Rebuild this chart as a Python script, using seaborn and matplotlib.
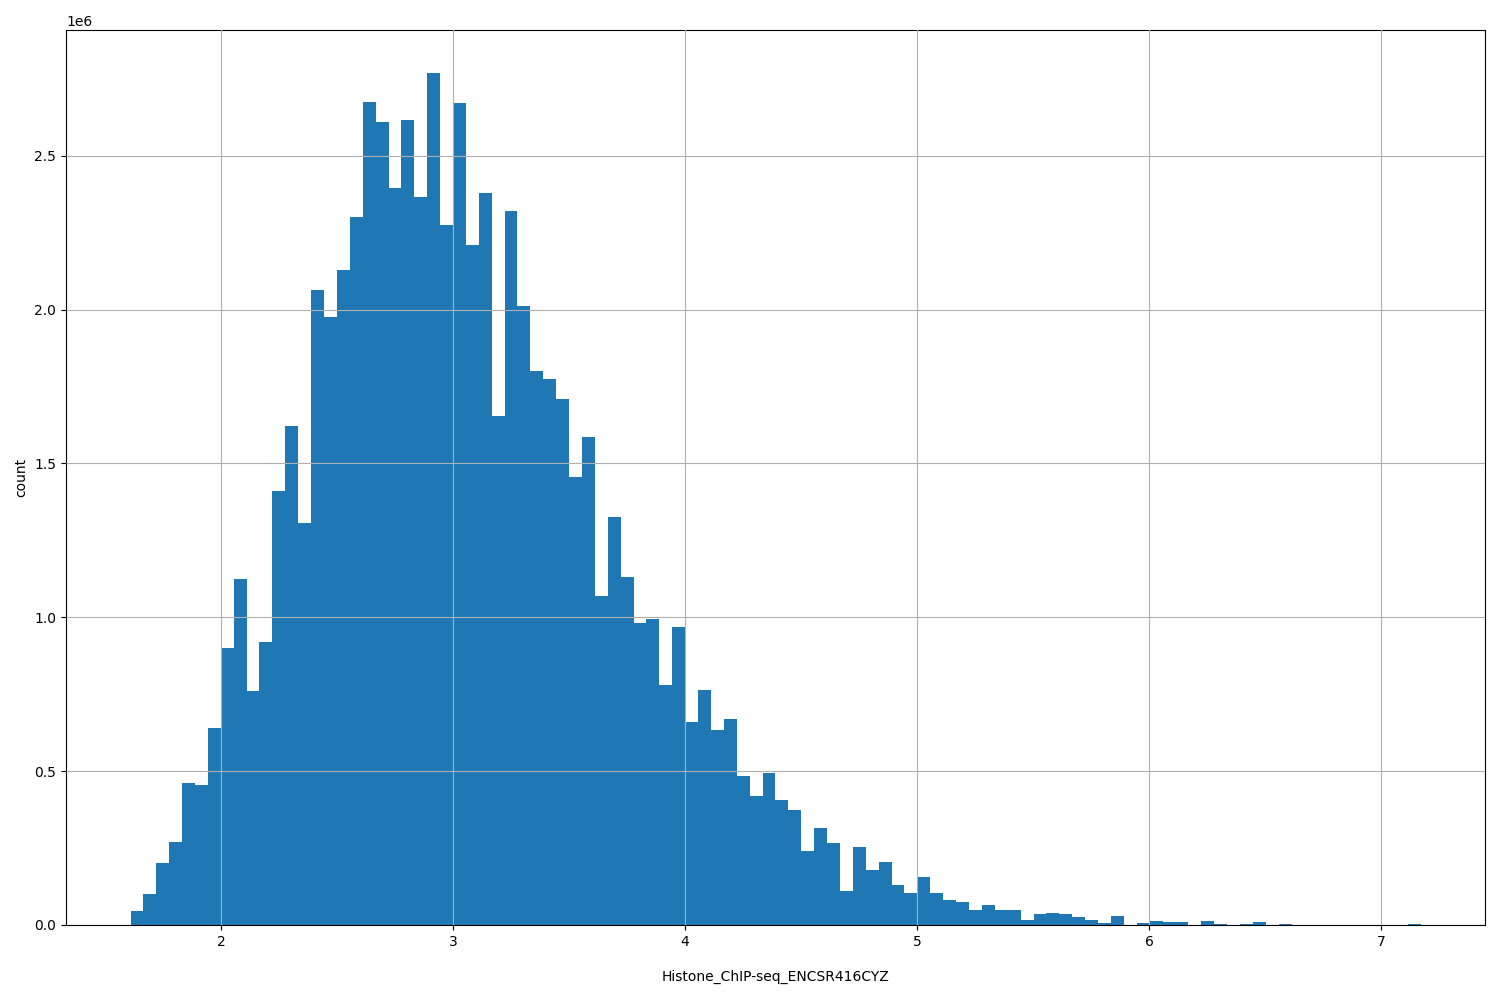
import numpy as np
import pandas as pd
import matplotlib
matplotlib.use("Agg")
import matplotlib.pyplot as plt
import seaborn as sns

lo, hi, nbins = 1.61, 7.17, 100
counts_m = [0.045,0.10,0.20,0.27,0.46,0.455,0.64,0.90,1.125,0.76,
            0.92,1.41,1.62,1.305,2.065,1.975,2.13,2.30,2.675,2.61,
            2.395,2.615,2.365,2.77,2.275,2.67,2.21,2.38,1.655,2.32,
            2.01,1.80,1.775,1.71,1.455,1.585,1.07,1.325,1.13,0.98,
            0.995,0.78,0.97,0.66,0.765,0.635,0.67,0.485,0.42,0.495,
            0.405,0.375,0.24,0.315,0.265,0.11,0.255,0.18,0.205,0.13,
            0.105,0.155,0.105,0.08,0.075,0.05,0.065,0.05,0.05,0.015,
            0.035,0.04,0.035,0.025,0.015,0.005,0.03,0.0,0.005,0.012,
            0.01,0.01,0.0,0.012,0.004,0.0,0.004,0.01,0.0,0.003,
            0.0,0.0,0.0,0.0,0.0,0.0,0.0,0.0,0.0,0.004]
counts = np.array(counts_m) * 1e6
width = (hi - lo) / nbins
centers = lo + width * (np.arange(nbins) + 0.5)
df = pd.DataFrame({"x": centers, "w": counts})

fig, ax = plt.subplots(figsize=(15, 10), dpi=100)
sns.histplot(data=df, x="x", weights="w", bins=nbins, binrange=(lo, hi), ax=ax,
             element="step", color="#1f77b4", alpha=1, linewidth=0)
ax.set_xlim(lo - 0.05 * (hi - lo), hi + 0.05 * (hi - lo))
ax.grid(True, color="#b0b0b0")
ax.set_axisbelow(False)
ax.set_xlabel("Histone_ChIP-seq_ENCSR416CYZ", labelpad=15)
ax.set_ylabel("count")
plt.subplots_adjust(left=0.044, right=0.99, top=0.97, bottom=0.075)
fig.savefig("out.png")
